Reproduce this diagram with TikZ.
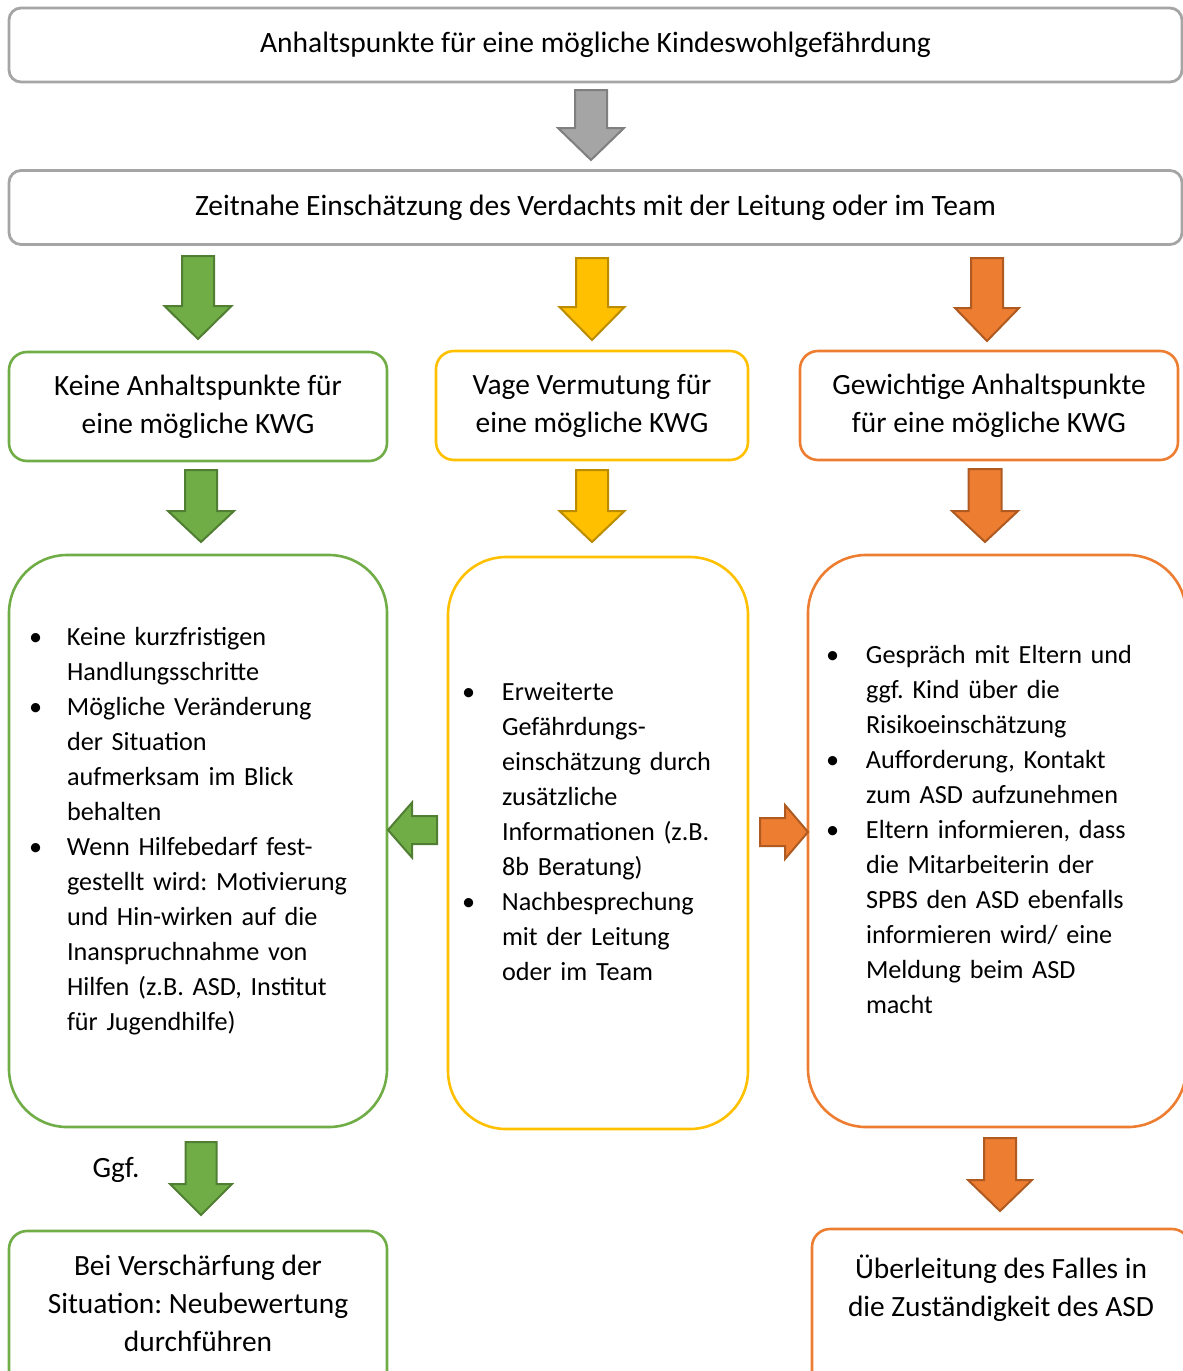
\documentclass[tikz,border=0pt]{standalone}
\usepackage{fontspec}
\setmainfont{Carlito}
\usepackage{xcolor}
\usepackage{tikz}

\definecolor{kgray}{HTML}{A5A5A5}
\definecolor{kgraydk}{HTML}{7F7F7F}
\definecolor{kgreen}{HTML}{70AD47}
\definecolor{kgreendk}{HTML}{507E32}
\definecolor{kyellow}{HTML}{FFC000}
\definecolor{kyellowdk}{HTML}{BC8C00}
\definecolor{korange}{HTML}{ED7D31}
\definecolor{korangedk}{HTML}{AE5A21}

\newcommand{\headfont}{\fontsize{14.75}{18}\selectfont}
\newcommand{\listfont}{\fontsize{13.1}{17.5}\selectfont}
\newcommand{\boxfont}{\fontsize{14.7}{19}\selectfont}

\tikzset{
	pics/blkarrow/.style n args={5}{code={
		\path[#5] (-#4,0) -- (#4,0) -- (#4,#1-#2) -- (#3,#1-#2) -- (0,#1)
			-- (-#3,#1-#2) -- (-#4,#1-#2) -- cycle;
	}},
	grayblk/.style={fill=kgray, draw=kgraydk, line width=1pt},
	greenblk/.style={fill=kgreen, draw=kgreendk, line width=1pt},
	yellowblk/.style={fill=kyellow, draw=kyellowdk, line width=1pt},
	orangeblk/.style={fill=korange, draw=korangedk, line width=1pt},
	headbox/.style={draw=kgray, line width=1.4pt, rounded corners=6pt,
		minimum width=586.5pt, minimum height=37pt, font=\headfont},
	stagebox/.style={line width=1.3pt, rounded corners=9pt, inner sep=0pt,
		minimum width=189pt, minimum height=54.5pt, align=center, font=\boxfont},
	listbox/.style={line width=1.3pt, rounded corners=29pt, inner ysep=0pt,
		inner xsep=10pt, text width=169pt, minimum height=286pt,
		align=left, font=\listfont}
}

\begin{document}
\frenchspacing
\begin{tikzpicture}[x=0.5pt, y=-0.5pt]
		\clip (0,0) rectangle (1183,1371);
		%
		\node[headbox] (anhalt) at (595.5,45) {Anhaltspunkte für eine mögliche Kindeswohlgefährdung};
		\node[headbox] (zeitnah) at (595.5,207.5) {Zeitnahe Einschätzung des Verdachts mit der Leitung oder im Team};
		%
		\node[stagebox, draw=kgreen] (keine) at (198,406.5) {Keine Anhaltspunkte für\\eine mögliche KWG};
		\node[stagebox, draw=kyellow, minimum width=156pt] (vage) at (592,405.5) {Vage Vermutung für\\eine mögliche KWG};
		\node[stagebox, draw=korange] (gewichtig) at (989,405.5) {Gewichtige Anhaltspunkte\\für eine mögliche KWG};
		%
		\node[listbox, draw=kgreen] (keineL) at (198,841) {\begin{tabular}{@{}p{19pt}@{}l@{}}
			\textbullet & Keine kurzfristigen\\
			& Handlungsschritte\\
			\textbullet & Mögliche Veränderung\\
			& der Situation\\
			& aufmerksam im Blick\\
			& behalten\\
			\textbullet & Wenn Hilfebedarf fest-\\
			& gestellt wird: Motivierung\\
			& und Hin-wirken auf die\\
			& Inanspruchnahme von\\
			& Hilfen (z.B. ASD, Institut\\
			& für Jugendhilfe)\\[10pt]
		\end{tabular}};
		\node[listbox, draw=kyellow, inner xsep=7pt, text width=136pt] (vageL) at (598,843) {\begin{tabular}{@{}p{20pt}@{}l@{}}
			\textbullet & Erweiterte\\
			& Gefährdungs-\\
			& einschätzung durch\\
			& zusätzliche\\
			& Informationen (z.B.\\
			& 8b Beratung)\\
			\textbullet & Nachbesprechung\\
			& mit der Leitung\\
			& oder im Team\\[10pt]
		\end{tabular}};
		\node[listbox, draw=korange, inner xsep=9pt, text width=171pt] (gewichtigL) at (997,841) {\begin{tabular}{@{}p{20pt}@{}l@{}}
			\textbullet & Gespräch mit Eltern und\\
			& ggf. Kind über die\\
			& Risikoeinschätzung\\
			\textbullet & Aufforderung, Kontakt\\
			& zum ASD aufzunehmen\\
			\textbullet & Eltern informieren, dass\\
			& die Mitarbeiterin der\\
			& SPBS den ASD ebenfalls\\
			& informieren wird/ eine\\
			& Meldung beim ASD\\
			& macht\\[10pt]
		\end{tabular}};
		%
		\node[stagebox, draw=kgreen, minimum height=85pt] (neu) at (198,1316) {\begin{tabular}{@{}c@{}}
			Bei Verschärfung der\\
			Situation: Neubewertung\\
			durchführen\\[10pt]
		\end{tabular}};
		\node[stagebox, draw=korange, minimum height=85pt] (asd) at (1001,1314) {\begin{tabular}{@{}c@{}}
			Überleitung des Falles in\\
			die Zuständigkeit des ASD\\[24pt]
		\end{tabular}};
		\node[font=\boxfont] (ggf) at (116,1170) {Ggf.};
		%
		% block arrows
		\pic at (591,90) {blkarrow={70}{32}{33}{16}{grayblk}};
		\pic at (198,256) {blkarrow={83}{33}{33.5}{16}{greenblk}};
		\pic at (592,258) {blkarrow={82}{33}{32.5}{16}{yellowblk}};
		\pic at (987,258) {blkarrow={83}{33}{32}{16}{orangeblk}};
		\pic at (201,470) {blkarrow={72}{31}{33}{16}{greenblk}};
		\pic at (592,470) {blkarrow={72}{31}{32.5}{16}{yellowblk}};
		\pic at (985,469) {blkarrow={73}{31}{33}{16.5}{orangeblk}};
		\pic[rotate=-90] at (437,830) {blkarrow={49}{24}{27.5}{14}{greenblk}};
		\pic[rotate=90] at (760,832) {blkarrow={48}{23}{27}{14}{orangeblk}};
		\pic at (201,1142) {blkarrow={73}{31}{31}{15.5}{greenblk}};
		\pic at (1000,1138) {blkarrow={73}{31}{32}{16}{orangeblk}};
	\end{tikzpicture}
\end{document}
